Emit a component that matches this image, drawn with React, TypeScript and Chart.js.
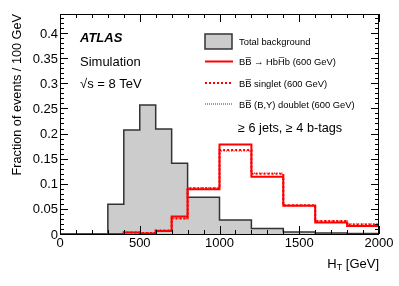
import React, { useEffect, useRef } from "react";
import { Chart, registerables } from "chart.js";

Chart.register(...registerables);

const binEdges = [0, 300, 400, 500, 600, 700, 800, 1000, 1200, 1400, 1600, 1800, 2000];
const background = [0, 0.059, 0.207, 0.257, 0.209, 0.141, 0.073, 0.028, 0.011, 0.004, 0.002, 0.001];
const hbhb = [0, 0, 0.003, 0.001, 0.006, 0.035, 0.089, 0.178, 0.114, 0.056, 0.023, 0.016];
const singlet = [0, 0, 0.003, 0.002, 0.007, 0.031, 0.091, 0.167, 0.12, 0.057, 0.026, 0.019];
const doublet = [0, 0, 0.003, 0.002, 0.007, 0.031, 0.092, 0.165, 0.121, 0.057, 0.026, 0.02];

const xTicks = [0, 500, 1000, 1500, 2000];
const yTicks = [0, 0.05, 0.1, 0.15, 0.2, 0.25, 0.3, 0.35, 0.4];
const yTickLabels = ["0", "0.05", "0.1", "0.15", "0.2", "0.25", "0.3", "0.35", "0.4"];

const legendLabels = [
  "Total background",
  "BB\u0305 \u2192 HbH\u0305b (600 GeV)",
  "BB\u0305 singlet (600 GeV)",
  "BB\u0305 (B,Y) doublet (600 GeV)",
];

const FONT = '"Liberation Sans", Arial, Helvetica, sans-serif';

function toSteps(vals: number[]) {
  return binEdges.map((e, i) => ({ x: e, y: i < vals.length ? vals[i] : vals[vals.length - 1] }));
}

const decorPlugin = {
  id: "decor",
  afterDraw(chart: any) {
    const ctx = chart.ctx as CanvasRenderingContext2D;
    const { left, right, top, bottom } = chart.chartArea;
    const xs = chart.scales.x;
    const ys = chart.scales.y;
    ctx.save();
    ctx.strokeStyle = "#000";
    ctx.lineWidth = 1;
    ctx.strokeRect(left + 0.5, top + 0.5, right - left - 1, bottom - top);
    ctx.beginPath();
    for (let v = 0; v <= 2000; v += 100) {
      const px = Math.round(xs.getPixelForValue(v)) + 0.5;
      const len = v % 500 === 0 ? 8 : 4;
      ctx.moveTo(px, bottom);
      ctx.lineTo(px, bottom - len);
      ctx.moveTo(px, top);
      ctx.lineTo(px, top + len);
    }
    for (let k = 0; k <= 43; k++) {
      const v = k * 0.01;
      const py = Math.round(ys.getPixelForValue(v)) + 0.5;
      if (py < top) continue;
      const len = k % 5 === 0 ? 8 : 4;
      ctx.moveTo(left, py);
      ctx.lineTo(left + len, py);
      ctx.moveTo(right, py);
      ctx.lineTo(right - len, py);
    }
    ctx.stroke();

    ctx.fillStyle = "#000";
    ctx.font = `13px ${FONT}`;
    ctx.textAlign = "right";
    ctx.textBaseline = "middle";
    yTicks.forEach((v, i) => {
      ctx.fillText(yTickLabels[i], left - 2, ys.getPixelForValue(v) + 1);
    });
    ctx.textAlign = "center";
    ctx.textBaseline = "top";
    xTicks.forEach((v) => {
      ctx.fillText(String(v), xs.getPixelForValue(v), bottom + 3);
    });

    ctx.textBaseline = "middle";
    ctx.textAlign = "left";
    ctx.font = `13px ${FONT}`;
    const rest = " [GeV]";
    const wRest = ctx.measureText(rest).width;
    const wH = ctx.measureText("H").width;
    ctx.font = `9px ${FONT}`;
    const wT = ctx.measureText("T").width;
    const x0 = right - wRest - wT - wH;
    ctx.font = `13px ${FONT}`;
    ctx.fillText("H", x0, 264);
    ctx.font = `9px ${FONT}`;
    ctx.fillText("T", x0 + wH, 268);
    ctx.font = `13px ${FONT}`;
    ctx.fillText(rest, x0 + wH + wT, 264);

    ctx.save();
    ctx.translate(17, top);
    ctx.rotate(-Math.PI / 2);
    ctx.textAlign = "right";
    ctx.textBaseline = "middle";
    ctx.font = `12.7px ${FONT}`;
    ctx.fillText("Fraction of events / 100 GeV", 0, 0);
    ctx.restore();

    ctx.textAlign = "left";
    ctx.textBaseline = "middle";
    ctx.font = `italic bold 13px ${FONT}`;
    ctx.fillText("ATLAS", 80, 38);
    ctx.font = `13px ${FONT}`;
    ctx.fillText("Simulation", 80, 62);
    ctx.fillText("\u221As = 8 TeV", 80, 84);

    ctx.fillStyle = "#cccccc";
    ctx.fillRect(205, 34, 27, 15);
    ctx.strokeStyle = "#333";
    ctx.lineWidth = 1.5;
    ctx.strokeRect(205, 34, 27, 15);
    const ly = [61.5, 83, 104];
    ctx.strokeStyle = "#ff0000";
    ctx.lineWidth = 2;
    ctx.setLineDash([]);
    ctx.beginPath();
    ctx.moveTo(205, ly[0]);
    ctx.lineTo(233, ly[0]);
    ctx.stroke();
    ctx.setLineDash([2, 2]);
    ctx.beginPath();
    ctx.moveTo(205, ly[1]);
    ctx.lineTo(233, ly[1]);
    ctx.stroke();
    ctx.setLineDash([1, 1]);
    ctx.lineWidth = 2;
    ctx.strokeStyle = "#ff7070";
    ctx.beginPath();
    ctx.moveTo(205, ly[2]);
    ctx.lineTo(233, ly[2]);
    ctx.stroke();
    ctx.setLineDash([]);

    ctx.fillStyle = "#000";
    ctx.font = `9.4px ${FONT}`;
    ctx.fillText(legendLabels[0], 239, 42);
    ctx.fillText(legendLabels[1], 239, 62.5);
    ctx.fillText(legendLabels[2], 239, 84);
    ctx.fillText(legendLabels[3], 239, 105);

    ctx.font = `12.7px ${FONT}`;
    ctx.fillText("\u2265 6 jets, \u2265 4 b-tags", 238, 128);
    ctx.restore();
  },
};

export default function App() {
  const ref = useRef<HTMLCanvasElement | null>(null);
  useEffect(() => {
    if (!ref.current) return;
    const chart = new Chart(ref.current, {
      type: "line",
      data: {
        datasets: [
          {
            label: "BB HbHb",
            data: toSteps(hbhb),
            stepped: "before",
            borderColor: "#ff0000",
            borderWidth: 2,
            pointRadius: 0,
            fill: false,
            order: 1,
          } as any,
          {
            label: "singlet",
            data: toSteps(singlet),
            stepped: "before",
            borderColor: "#ff0000",
            borderWidth: 2,
            borderDash: [2, 2],
            pointRadius: 0,
            fill: false,
            order: 2,
          },
          {
            label: "doublet",
            data: toSteps(doublet),
            stepped: "before",
            borderColor: "#ff3333",
            borderWidth: 1.5,
            borderDash: [1, 1.5],
            pointRadius: 0,
            fill: false,
            order: 3,
          },
          {
            label: "Total background",
            data: toSteps(background),
            stepped: "before",
            borderColor: "#333333",
            backgroundColor: "#cccccc",
            borderWidth: 1.5,
            pointRadius: 0,
            fill: "origin",
            order: 4,
          },
        ],
      },
      options: {
        responsive: false,
        animation: false,
        layout: { padding: { left: 60, right: 20, top: 14, bottom: 52 } },
        plugins: { legend: { display: false }, tooltip: { enabled: false } },
        scales: {
          x: { type: "linear", min: 0, max: 2000, display: false },
          y: { type: "linear", min: 0, max: 0.438, display: false },
        },
      },
      plugins: [decorPlugin],
    });
    return () => chart.destroy();
  }, []);
  return (
    <div style={{ position: "fixed", left: 0, top: 0, width: 399, height: 286, background: "#fff" }}>
      <canvas ref={ref} width={399} height={286} style={{ width: 399, height: 286 }} />
    </div>
  );
}
